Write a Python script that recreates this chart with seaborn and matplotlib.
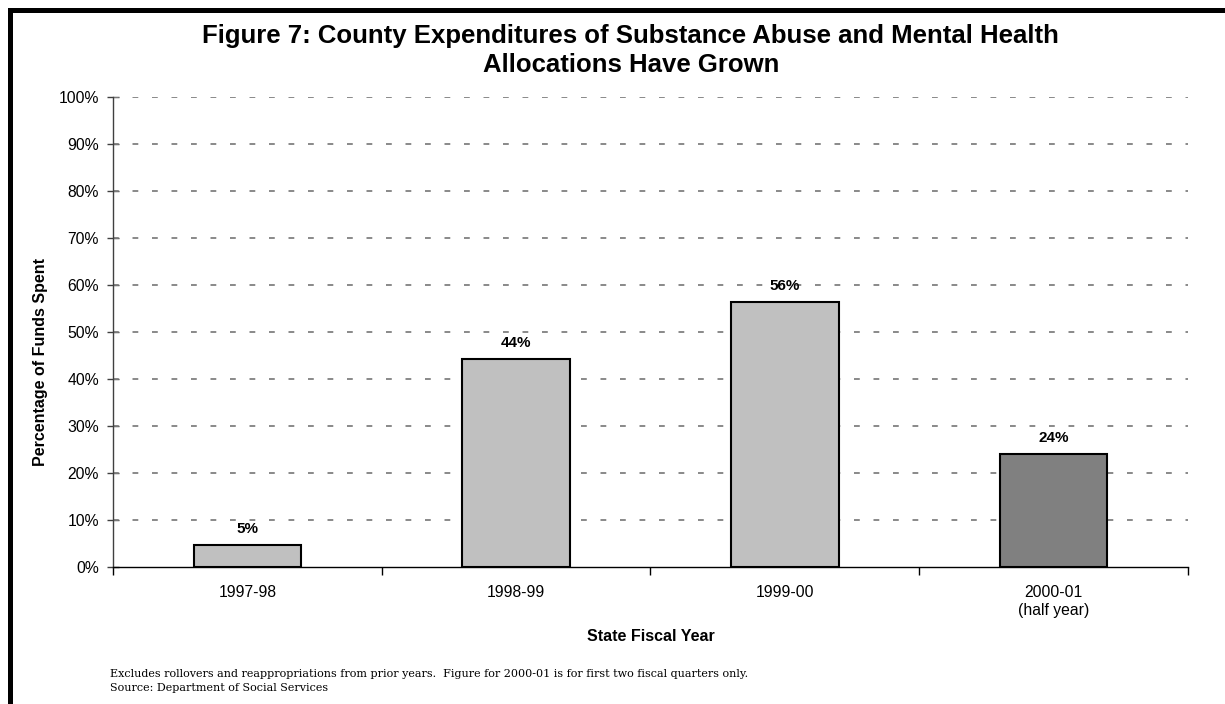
import numpy as np
import pandas as pd
import seaborn as sns
import matplotlib.pyplot as plt
from matplotlib.lines import Line2D

# data
years = ['1997-98', '1998-99', '1999-00', '2000-01\n(half year)']
spent = [4.8, 44.3, 56.4, 24.2]
bar_labels = ['5%', '44%', '56%', '24%']
bar_colors = ['#C0C0C0', '#C0C0C0', '#C0C0C0', '#808080']
y_ticks = list(range(0, 101, 10))

df = pd.DataFrame({'year': years, 'spent': spent})

sns.set_style('white', {'text.color': 'black', 'axes.labelcolor': 'black',
                        'xtick.color': 'black', 'ytick.color': 'black',
                        'xtick.bottom': True, 'ytick.left': True})
plt.rcParams['font.family'] = ['Liberation Sans', 'DejaVu Sans']

fig = plt.figure(figsize=(12.25, 7.04), dpi=100)
ax = fig.add_axes([0.0922, 0.194, 0.8776, 0.6686])

sns.barplot(data=df, x='year', y='spent', hue='year', palette=bar_colors,
            width=0.4, edgecolor='black', linewidth=1.5, saturation=1,
            legend=False, ax=ax, zorder=3)

# value labels
for i, (v, lab) in enumerate(zip(spent, bar_labels)):
    ax.text(i, v + 1.8, lab, ha='center', va='bottom', fontsize=11,
            fontweight='bold')

ax.set_xlim(-0.5, 3.5)
ax.set_ylim(0, 100)
ax.set_yticks(y_ticks)
ax.set_yticklabels([f'{t}%' for t in y_ticks], fontsize=11.3)
ax.tick_params(axis='y', left=True, direction='inout', length=8, width=1,
               pad=6, color='#404040')

# x ticks between categories
ax.set_xticks(range(len(years)))
ax.set_xticklabels(years, fontsize=11.3)
ax.tick_params(axis='x', which='major', length=0, pad=13)
ax.set_xticks(np.arange(-0.5, 4, 1), minor=True)
ax.tick_params(axis='x', which='minor', bottom=True, direction='out',
               length=6, width=1)

# dashed grid
for t in y_ticks[1:]:
    ax.axhline(t, color='#808080', lw=1.3, ls=(0, (3.2, 7.6)), zorder=1)

for s in ['top', 'right']:
    ax.spines[s].set_visible(False)
ax.spines['left'].set_color('#404040')
ax.spines['bottom'].set_color('black')
ax.spines['left'].set_linewidth(1)
ax.spines['bottom'].set_linewidth(1)

ax.set_xlabel('State Fiscal Year', fontsize=11.5, fontweight='bold')
ax.xaxis.set_label_coords(0.5, -0.13)
ax.set_ylabel('')
fig.text(40 / 1225, 1 - 361.5 / 704, 'Percentage of Funds Spent', rotation=90,
         ha='center', va='center', fontsize=11.5, fontweight='bold')

fig.text(0.515, 0.966, 'Figure 7: County Expenditures of Substance Abuse and Mental Health\n'
         'Allocations Have Grown', ha='center', va='top', fontsize=18.5,
         fontweight='bold', linespacing=1.25)

fig.text(0.09, 0.016, 'Excludes rollovers and reappropriations from prior years.  '
         'Figure for 2000-01 is for first two fiscal quarters only.\n'
         'Source: Department of Social Services', ha='left', va='bottom',
         fontsize=8, family=['DejaVu Serif'], linespacing=1.45)

# border on top and left
fig.add_artist(Line2D([0.008, 0.008], [0, 0.986], color='black', lw=3.6,
                      transform=fig.transFigure, solid_capstyle='projecting'))
fig.add_artist(Line2D([0.008, 1], [0.986, 0.986], color='black', lw=3.6,
                      transform=fig.transFigure, solid_capstyle='projecting'))

fig.savefig('out.png', dpi=100)
